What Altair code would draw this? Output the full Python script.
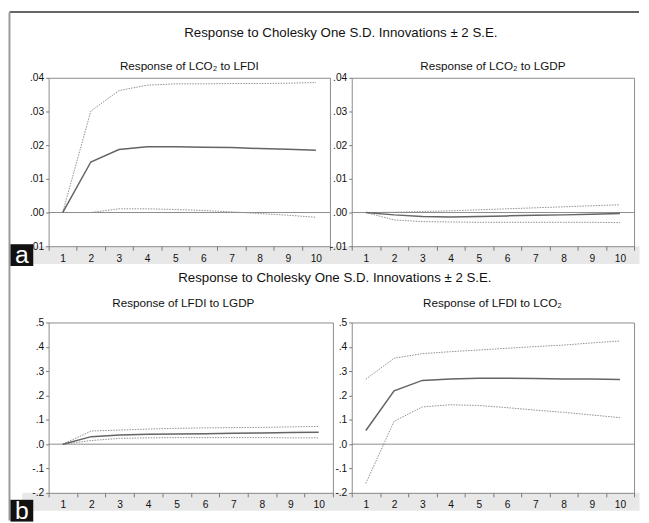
import altair as alt
import pandas as pd

periods = list(range(1, 11))

# Panel a (left): Response of LCO2 to LFDI
a1_mid = [0.0, 0.0150, 0.0187, 0.0195, 0.0195, 0.0194, 0.0193, 0.0190, 0.0188, 0.0185]
a1_upper = [0.0, 0.0301, 0.0362, 0.0378, 0.0382, 0.0382, 0.0383, 0.0383, 0.0384, 0.0386]
a1_lower = [0.0, 0.0000, 0.0011, 0.0011, 0.0009, 0.0006, 0.0002, -0.0003, -0.0008, -0.0014]
# Panel a (right): Response of LCO2 to LGDP
a2_mid = [0.0, -0.0007, -0.0012, -0.0013, -0.0012, -0.0010, -0.0008, -0.0007, -0.0005, -0.0003]
a2_upper = [0.0, 0.0001, 0.0003, 0.0005, 0.0008, 0.0011, 0.0014, 0.0017, 0.0020, 0.0023]
a2_lower = [0.0, -0.0022, -0.0027, -0.0028, -0.0029, -0.0029, -0.0029, -0.0029, -0.0029, -0.0030]
# Panel b (left): Response of LFDI to LGDP
b1_mid = [0.0, 0.031, 0.038, 0.041, 0.042, 0.043, 0.045, 0.046, 0.048, 0.049]
b1_upper = [0.0, 0.054, 0.058, 0.062, 0.065, 0.067, 0.068, 0.069, 0.071, 0.073]
b1_lower = [0.0, 0.015, 0.024, 0.026, 0.027, 0.027, 0.027, 0.027, 0.026, 0.026]
# Panel b (right): Response of LFDI to LCO2
b2_mid = [0.056, 0.219, 0.262, 0.268, 0.271, 0.271, 0.270, 0.268, 0.268, 0.266]
b2_upper = [0.267, 0.353, 0.372, 0.380, 0.387, 0.394, 0.401, 0.407, 0.416, 0.424]
b2_lower = [-0.161, 0.094, 0.153, 0.162, 0.159, 0.150, 0.140, 0.131, 0.120, 0.109]

ticks_a = [-0.01, 0.0, 0.01, 0.02, 0.03, 0.04]
ticks_b = [-0.2, -0.1, 0.0, 0.1, 0.2, 0.3, 0.4, 0.5]
x_labels = [1, 2, 3, 4, 5, 6, 7, 8, 9, 10]
x_ticks = [0.5, 1.5, 2.5, 3.5, 4.5, 5.5, 6.5, 7.5, 8.5, 9.5, 10.5]

super_title = "Response to Cholesky One S.D. Innovations \u00b1 2 S.E."
FONT = "Liberation Sans"
one = pd.DataFrame({"k": [0]})

label_axis = alt.Axis(
    values=x_labels, title=None, grid=False, domain=False, ticks=False, orient="bottom",
    labelPadding=7, labelFlush=False, labelOverlap=False,
    labelFontSize=10.3, labelColor="#111", labelFont=FONT, zindex=1,
)
tick_axis = alt.Axis(
    values=x_ticks, title=None, grid=False, domain=False, labels=False, orient="bottom",
    tickSize=4, tickColor="#777", zindex=1,
)


def plot(mid, upper, lower, ydom, yticks, yfmt, w, h, subtitle, sub_x, sub_y):
    df = pd.DataFrame({
        "period": periods * 3,
        "value": mid + upper + lower,
        "series": ["mid"] * 10 + ["upper"] * 10 + ["lower"] * 10,
    })
    y_axis = alt.Axis(
        values=yticks, title=None, grid=False, domain=False,
        labelExpr=f"replace(replace(format(datum.value, '{yfmt}'), '0.', '.'), '\u2212', '-')",
        tickSize=3, tickColor="#777", labelPadding=2, labelFontSize=10.3,
        labelColor="#111", labelFont=FONT, labelOverlap=False, zindex=1,
    )
    xs = alt.Scale(domain=[0.5, 10.5], nice=False, zero=False)
    ys = alt.Scale(domain=ydom, nice=False, zero=False)
    y = alt.Y("value:Q", scale=ys, axis=y_axis)
    base = alt.Chart(df)
    zero = alt.Chart(pd.DataFrame({"z": [0.0]})).mark_rule(color="#8c8c8c", strokeWidth=1).encode(
        y=alt.Y("z:Q", scale=ys, axis=y_axis)
    )
    bands = base.transform_filter("datum.series != 'mid'").mark_line(
        color="#8f8f8f", strokeWidth=1, strokeDash=[1.5, 1.2]
    ).encode(x=alt.X("period:Q", scale=xs, axis=tick_axis), y=y, detail="series:N")
    midl = base.transform_filter("datum.series == 'mid'").mark_line(
        color="#646464", strokeWidth=1.5
    ).encode(x=alt.X("period:Q", scale=xs, axis=label_axis), y=y)
    sub = alt.Chart(one).mark_text(
        text=subtitle, font=FONT, fontSize=11.8, color="#111111", align="center", baseline="middle"
    ).encode(x=alt.value(sub_x), y=alt.value(sub_y))
    return alt.layer(zero, bands, midl, sub).resolve_axis(x="independent").properties(
        width=w, height=h
    )


def spacer(w, h, band_y, box_y, letter, letter_y, title_x, frame=False):
    layers = [
        alt.Chart(one).mark_rect(color="#e8e8e8").encode(
            x=alt.value(1.5), x2=alt.value(624.5), y=alt.value(band_y), y2=alt.value(band_y + 18)
        ),
    ]
    if frame:
        layers += [
            alt.Chart(one).mark_rule(color="#333333", strokeWidth=1.5).encode(
                x=alt.value(-11.5), x2=alt.value(624), y=alt.value(-66.5)
            ),
            alt.Chart(one).mark_rule(color="#9a9a9a", strokeWidth=2).encode(
                x=alt.value(-11.5), y=alt.value(-66), y2=alt.value(447)
            ),
        ]
    layers += [
        alt.Chart(one).mark_rect(color="#111111").encode(
            x=alt.value(-10.5), x2=alt.value(12.5), y=alt.value(box_y), y2=alt.value(box_y + 22)
        ),
        alt.Chart(one).mark_text(
            text=letter, font=FONT, fontSize=25, color="white", align="center", baseline="alphabetic"
        ).encode(x=alt.value(1), y=alt.value(letter_y)),
        alt.Chart(one).mark_text(
            text=super_title, font=FONT, fontSize=13.4, color="#111111", align="center", baseline="middle"
        ).encode(x=alt.value(title_x), y=alt.value(-45)),
    ]
    return alt.layer(*layers).properties(
        width=w, height=h, view=alt.ViewBackground(stroke="transparent")
    )


a1 = plot(a1_mid, a1_upper, a1_lower, [-0.01, 0.04], ticks_a, ".2f", 284, 170,
          "Response of LCO\u2082 to LFDI", 142, -12)
a2 = plot(a2_mid, a2_upper, a2_lower, [-0.01, 0.04], ticks_a, ".2f", 285, 170,
          "Response of LCO\u2082 to LGDP", 142.5, -12)
b1 = plot(b1_mid, b1_upper, b1_lower, [-0.2, 0.5], ticks_b, ".1f", 287, 172,
          "Response of LFDI to LGDP", 136, -20)
b2 = plot(b2_mid, b2_upper, b2_lower, [-0.2, 0.5], ticks_b, ".1f", 285, 172,
          "Response of LFDI to LCO\u2082", 142, -20)

sa = spacer(9, 170, 170, 168, "a", 187, 323, frame=True)
sb = spacer(2, 172, 172, 179, "b", 198, 317)

chart = alt.concat(
    sa, a1, a2, sb, b1, b2, columns=3, spacing={"row": 77, "column": 19},
    bounds="flush", align="none",
).properties(padding=0, background="white").configure_view(stroke="#8c8c8c", strokeWidth=1)

chart.save("out.html", embed_options={"renderer": "svg", "actions": False})
